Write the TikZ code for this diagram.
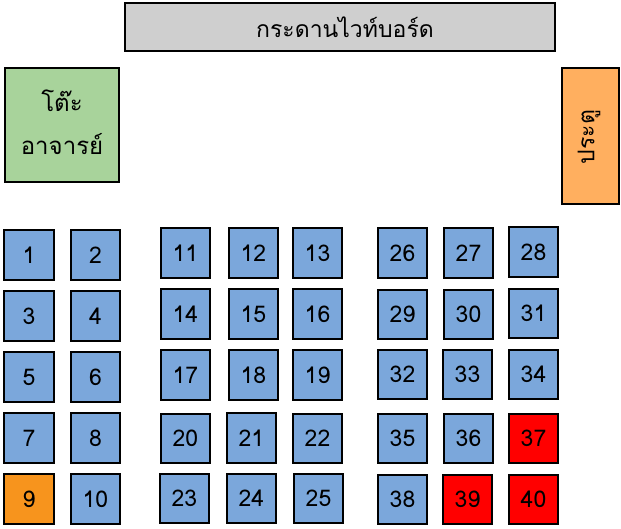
\documentclass[tikz,border=0pt]{standalone}
\usepackage{fontspec}
\newfontfamily\thaifont[Script=Thai]{Loma}
\definecolor{seatblue}{HTML}{7BA7DB}
\definecolor{seatorange}{HTML}{F7941D}
\definecolor{seatred}{HTML}{FF0000}
\definecolor{deskgreen}{HTML}{A8D39B}
\definecolor{doororange}{HTML}{FFAF5F}
\definecolor{boardgray}{HTML}{CFCFCF}
\tikzset{
  seatbox/.style={draw=black, line width=1.8pt, fill=seatblue, minimum width=49.5pt, minimum height=49.5pt, inner sep=0pt, font=\thaifont\fontsize{23}{26}\selectfont},
  bigbox/.style={draw=black, line width=1.8pt, inner sep=0pt},
  thaitext/.style={inner sep=0pt, font=\thaifont\fontsize{23}{26}\selectfont},
}
\begin{document}
\begin{tikzpicture}[x=1pt,y=-1pt]
\useasboundingbox (0,0) rectangle (621,528);
% whiteboard, desk, door
\node[bigbox, fill=boardgray, minimum width=430pt, minimum height=48pt] (board) at (340,27) {};
\node[thaitext] (boardtext) at (345,27) {กระดานไวท์บอร์ด};
\node[bigbox, fill=deskgreen, minimum width=114pt, minimum height=114pt] (desk) at (62,125) {};
\node[thaitext, align=center, font=\thaifont\fontsize{24}{43}\selectfont] (desktext) at (62,122) {โต๊ะ\\อาจารย์};
\node[bigbox, fill=doororange, minimum width=57pt, minimum height=136pt] (door) at (590.5,136) {};
\node[thaitext, rotate=90] (doortext) at (589,137) {ประตู};
% left group
\node[seatbox] (s1) at (29,255) {1};
\node[seatbox] (s2) at (95.5,255) {2};
\node[seatbox] (s3) at (29,316) {3};
\node[seatbox] (s4) at (95.5,316) {4};
\node[seatbox] (s5) at (29,377) {5};
\node[seatbox] (s6) at (95.5,377) {6};
\node[seatbox] (s7) at (29,438) {7};
\node[seatbox] (s8) at (95.5,438) {8};
\node[seatbox, fill=seatorange] (s9) at (29,499) {9};
\node[seatbox] (s10) at (95.5,499) {10};
% center group
\node[seatbox] (s11) at (185.5,253) {11};
\node[seatbox] (s12) at (253.5,253) {12};
\node[seatbox] (s13) at (317.5,253) {13};
\node[seatbox] (s14) at (185.5,314) {14};
\node[seatbox] (s15) at (253.5,314) {15};
\node[seatbox] (s16) at (317.5,314) {16};
\node[seatbox] (s17) at (185.5,375) {17};
\node[seatbox] (s18) at (253.5,375) {18};
\node[seatbox] (s19) at (317.5,375) {19};
\node[seatbox] (s20) at (185.5,438.5) {20};
\node[seatbox] (s21) at (251.5,438) {21};
\node[seatbox] (s22) at (317.5,438.5) {22};
\node[seatbox] (s23) at (184.5,498.5) {23};
\node[seatbox] (s24) at (251.5,498.5) {24};
\node[seatbox] (s25) at (318.5,498.5) {25};
% right group
\node[seatbox] (s26) at (402.5,253) {26};
\node[seatbox] (s27) at (468.5,253) {27};
\node[seatbox] (s28) at (533.5,252) {28};
\node[seatbox] (s29) at (402.5,314.5) {29};
\node[seatbox] (s30) at (468.5,314.5) {30};
\node[seatbox] (s31) at (533.5,313.5) {31};
\node[seatbox] (s32) at (402.5,374.5) {32};
\node[seatbox] (s33) at (467.5,374.5) {33};
\node[seatbox] (s34) at (533.5,374.5) {34};
\node[seatbox] (s35) at (402.5,438.5) {35};
\node[seatbox] (s36) at (468.5,438.5) {36};
\node[seatbox, fill=seatred] (s37) at (533.5,438.5) {37};
\node[seatbox] (s38) at (402.5,499.5) {38};
\node[seatbox, fill=seatred] (s39) at (467.5,499.5) {39};
\node[seatbox, fill=seatred] (s40) at (533.5,499.5) {40};
\end{tikzpicture}
\end{document}
